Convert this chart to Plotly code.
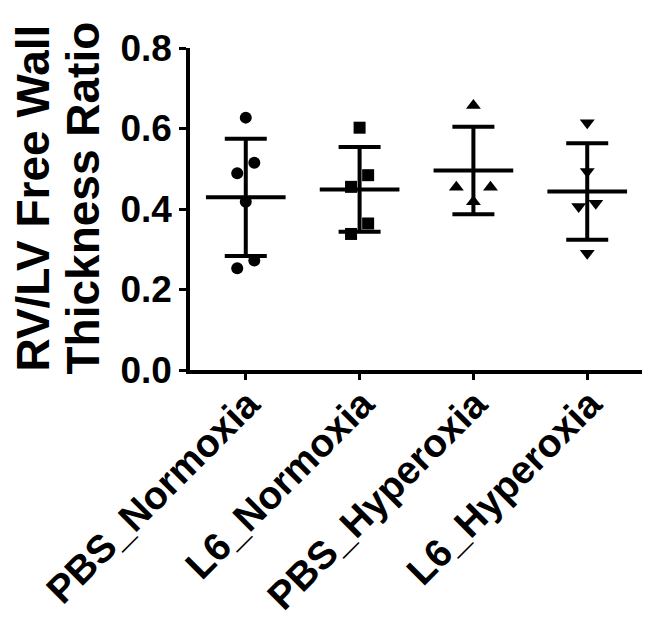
import plotly.graph_objects as go
import numpy as np

categories = ["PBS_Normoxia", "L6_Normoxia", "PBS_Hyperoxia", "L6_Hyperoxia"]
pbs_normoxia = [0.627, 0.515, 0.489, 0.418, 0.272, 0.253]
l6_normoxia = [0.602, 0.484, 0.455, 0.364, 0.338]
pbs_hyperoxia = [0.657, 0.454, 0.454, 0.418]
l6_hyperoxia = [0.614, 0.493, 0.414, 0.406, 0.290]
symbols = ["circle", "square", "triangle-up", "triangle-down"]
y_ticks = [0.0, 0.2, 0.4, 0.6, 0.8]
y_title_1 = "RV/LV Free Wall"
y_title_2 = "Thickness Ratio"

groups = [pbs_normoxia, l6_normoxia, pbs_hyperoxia, l6_hyperoxia]

FONT = "Liberation Sans, Arial, sans-serif"
SPACING = 0.15   # horizontal spacing between overlapping points (category units)
THRESH = 0.04    # values closer than this are considered overlapping
MEAN_HALF = 0.35


def scatter_offsets(vals):
    """Deterministic column-scatter layout: spread near-equal values sideways."""
    order = np.argsort(vals, kind="stable")
    offs = np.zeros(len(vals))
    clusters, cur = [], [order[0]]
    for a, b in zip(order[:-1], order[1:]):
        if vals[b] - vals[a] < THRESH:
            cur.append(b)
        else:
            clusters.append(cur)
            cur = [b]
    clusters.append(cur)
    for cl in clusters:
        n = len(cl)
        if n % 2 == 1:
            slots = [0]
            k = 1
            while len(slots) < n:
                slots += [-k, k]
                k += 1
        else:
            slots = []
            k = 0.5
            while len(slots) < n:
                slots += [-k, k]
                k += 1
        for idx, s in zip(cl, slots[:n]):
            offs[idx] = s * SPACING
    return offs


fig = go.Figure()
for i, (vals, sym) in enumerate(zip(groups, symbols)):
    v = np.array(vals)
    offs = scatter_offsets(v)
    fig.add_trace(go.Scatter(
        x=i + offs, y=v, mode="markers",
        marker=dict(symbol=sym, size=12 if sym in ("circle", "square") else 13, color="black"),
        showlegend=False, hoverinfo="skip"))
    m = v.mean()
    sd = v.std(ddof=1)
    fig.add_trace(go.Scatter(
        x=[i - MEAN_HALF, i + MEAN_HALF], y=[m, m], mode="lines",
        line=dict(color="black", width=4), showlegend=False, hoverinfo="skip"))
    fig.add_trace(go.Scatter(
        x=[i], y=[m], mode="markers", marker=dict(size=1, color="rgba(0,0,0,0)"),
        error_y=dict(type="data", array=[sd], symmetric=True, color="black",
                     thickness=4, width=21),
        showlegend=False, hoverinfo="skip"))

# page has an 8px body margin: work in figure coordinates = screen - 8
W, H = 650, 617
OFF = 8
L, T = 190 - OFF, 48 - OFF
B = H - (370 - OFF)
R = W - (643 - OFF)
pw, ph = W - L - R, H - T - B
XR = [-0.49, 3.49]
unit_px = pw / (XR[1] - XR[0])

fig.update_xaxes(
    range=XR, tickmode="array", tickvals=list(range(len(categories))),
    ticktext=[""] * len(categories), showline=True, linecolor="black", linewidth=3.5,
    ticks="outside", ticklen=6, tickwidth=3, tickcolor="black", showgrid=False, zeroline=False,
    automargin=False)
fig.update_yaxes(
    range=[0, 0.8], tickmode="array", tickvals=y_ticks,
    ticktext=[f"{t:.1f}" for t in y_ticks], showline=True, linecolor="black", linewidth=3.5,
    ticks="outside", ticklen=7, tickwidth=3, tickcolor="black", showgrid=False, zeroline=False,
    automargin=False,
    tickfont=dict(family=FONT, size=37, color="black", weight="bold"))

# rotated category labels
for i, cat in enumerate(categories):
    fig.add_annotation(
        text=cat, xref="x", yref="paper", x=i + 25 / unit_px, y=-9 / ph,
        showarrow=False, textangle=-45, xanchor="right", yanchor="top",
        font=dict(family=FONT, size=39, color="black", weight="bold"))

def screen_to_paper(x, y):
    return (x - OFF - L) / pw, (H - B - (y - OFF)) / ph

for txt, cx in ((y_title_1, 32.5), (y_title_2, 82.5)):
    ax_, ay_ = screen_to_paper(cx, 198)
    fig.add_annotation(
        text=txt, xref="paper", yref="paper", x=ax_, y=ay_, showarrow=False,
        textangle=-90, xanchor="center", yanchor="middle",
        font=dict(family=FONT, size=46, color="black", weight="bold"))

fig.update_layout(
    width=W, height=H, margin=dict(l=L, r=R, t=T, b=B, autoexpand=False),
    plot_bgcolor="white", paper_bgcolor="white")

fig.write_html("out.html")
